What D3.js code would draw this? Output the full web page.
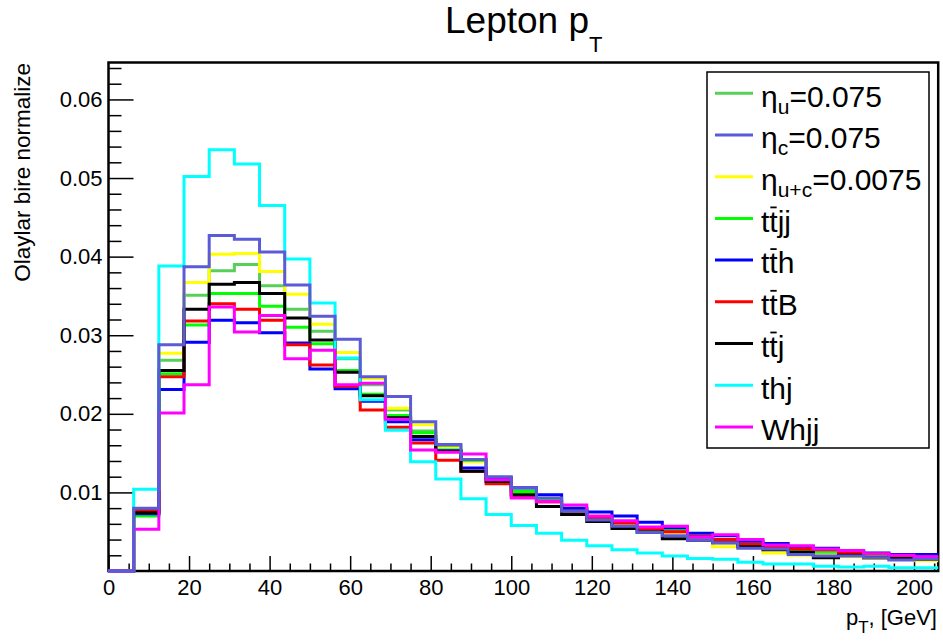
<!DOCTYPE html>
<html>
<head>
<meta charset="utf-8">
<script src="https://cdn.jsdelivr.net/npm/d3@7"></script>
<style>
  body { margin: 0; background: #fff; }
  svg { display: block; font-family: "Liberation Sans", Arial, Helvetica, sans-serif; }
</style>
</head>
<body>
<script>
// bins of 6.25 GeV starting at 0
var binWidth = 6.25;

var etaU  = [0, 0.0074, 0.0268, 0.0351, 0.0382, 0.0390, 0.0363, 0.0333, 0.0305, 0.0270, 0.0237, 0.0205, 0.0178, 0.0159, 0.0142, 0.0119, 0.0102, 0.0090, 0.0077, 0.0066, 0.0060, 0.0053, 0.0050, 0.0042, 0.0038, 0.0032, 0.0028, 0.0025, 0.0022, 0.0021, 0.0018, 0.0016, 0.0015];
var etaC  = [0, 0.0080, 0.0288, 0.0387, 0.0427, 0.0422, 0.0406, 0.0364, 0.0324, 0.0295, 0.0247, 0.0222, 0.0190, 0.0161, 0.0142, 0.0120, 0.0106, 0.0093, 0.0076, 0.0065, 0.0057, 0.0049, 0.0045, 0.0039, 0.0036, 0.0029, 0.0028, 0.0021, 0.0019, 0.0019, 0.0017, 0.0014, 0.0015];
var etaUC = [0, 0.0072, 0.0277, 0.0367, 0.0403, 0.0404, 0.0381, 0.0352, 0.0314, 0.0278, 0.0245, 0.0207, 0.0186, 0.0156, 0.0139, 0.0118, 0.0099, 0.0088, 0.0074, 0.0063, 0.0058, 0.0051, 0.0049, 0.0039, 0.0031, 0.0030, 0.0023, 0.0020, 0.0020, 0.0018, 0.0016, 0.0015, 0.0013];
var ttjj  = [0, 0.0070, 0.0251, 0.0313, 0.0353, 0.0353, 0.0337, 0.0310, 0.0289, 0.0255, 0.0225, 0.0198, 0.0176, 0.0154, 0.0141, 0.0118, 0.0101, 0.0092, 0.0080, 0.0069, 0.0062, 0.0055, 0.0052, 0.0044, 0.0040, 0.0034, 0.0030, 0.0027, 0.0025, 0.0024, 0.0020, 0.0018, 0.0017];
var tth   = [0, 0.0073, 0.0231, 0.0291, 0.0319, 0.0316, 0.0303, 0.0290, 0.0257, 0.0232, 0.0216, 0.0190, 0.0167, 0.0153, 0.0131, 0.0118, 0.0106, 0.0097, 0.0080, 0.0075, 0.0070, 0.0062, 0.0055, 0.0048, 0.0045, 0.0038, 0.0035, 0.0031, 0.0029, 0.0025, 0.0023, 0.0021, 0.0021];
var ttB   = [0, 0.0077, 0.0247, 0.0318, 0.0340, 0.0333, 0.0319, 0.0288, 0.0262, 0.0235, 0.0205, 0.0183, 0.0163, 0.0141, 0.0127, 0.0111, 0.0095, 0.0088, 0.0076, 0.0067, 0.0061, 0.0054, 0.0050, 0.0044, 0.0040, 0.0034, 0.0031, 0.0028, 0.0027, 0.0023, 0.0022, 0.0019, 0.0018];
var ttj   = [0, 0.0074, 0.0255, 0.0333, 0.0365, 0.0367, 0.0353, 0.0322, 0.0294, 0.0253, 0.0223, 0.0195, 0.0171, 0.0152, 0.0127, 0.0114, 0.0097, 0.0082, 0.0072, 0.0063, 0.0054, 0.0050, 0.0041, 0.0039, 0.0036, 0.0031, 0.0027, 0.0024, 0.0017, 0.0020, 0.0017, 0.0016, 0.0015];
var thj   = [0, 0.0104, 0.0388, 0.0502, 0.0536, 0.0518, 0.0465, 0.0397, 0.0341, 0.0271, 0.0218, 0.0179, 0.0139, 0.0117, 0.0092, 0.0072, 0.0058, 0.0048, 0.0039, 0.0032, 0.0027, 0.0023, 0.0019, 0.0016, 0.0015, 0.0011, 0.0009, 0.0009, 0.0006, 0.0005, 0.0006, 0.0004, 0.0004];
var whjj  = [0, 0.0053, 0.0201, 0.0237, 0.0336, 0.0304, 0.0325, 0.0270, 0.0281, 0.0237, 0.0239, 0.0193, 0.0154, 0.0151, 0.0149, 0.0116, 0.0093, 0.0088, 0.0084, 0.0070, 0.0064, 0.0056, 0.0057, 0.0043, 0.0046, 0.0040, 0.0033, 0.0032, 0.0028, 0.0026, 0.0022, 0.0020, 0.0018];

var xTicks = [0, 20, 40, 60, 80, 100, 120, 140, 160, 180, 200];
var yTicks = [0.01, 0.02, 0.03, 0.04, 0.05, 0.06];

// legend order; label = [main, subscript, rest]
var series = [
  { name: "etaU",  values: etaU,  color: "#58cf58", label: ["\u03b7", "u", "=0.075"] },
  { name: "etaC",  values: etaC,  color: "#5b5bd8", label: ["\u03b7", "c", "=0.075"] },
  { name: "etaUC", values: etaUC, color: "#ffff00", label: ["\u03b7", "u+c", "=0.0075"] },
  { name: "ttjj",  values: ttjj,  color: "#00ff00", label: ["ttjj"], bar: true },
  { name: "tth",   values: tth,   color: "#0000ff", label: ["tth"], bar: true },
  { name: "ttB",   values: ttB,   color: "#ff0000", label: ["ttB"], bar: true },
  { name: "ttj",   values: ttj,   color: "#000000", label: ["ttj"], bar: true },
  { name: "thj",   values: thj,   color: "#00ffff", label: ["thj"] },
  { name: "whjj",  values: whjj,  color: "#ff00ff", label: ["Whjj"] }
];

var W = 943, H = 642;
var frameL = 108.5, frameR = 938.2, frameT = 62.5, frameB = 571;

var svg = d3.select("body").append("svg")
  .attr("width", W)
  .attr("height", H);

var x = d3.scaleLinear().domain([0, 206]).range([frameL, frameR]);
var y = d3.scaleLinear().domain([0, 0.0647]).range([frameB, frameT]);

// clip a bit below the x axis so the zero bins stay visible on it
svg.append("clipPath").attr("id", "frame")
  .append("rect")
  .attr("x", frameL - 2).attr("y", frameT)
  .attr("width", frameR - frameL + 2).attr("height", frameB - frameT + 2);

// axes
var yMinor = d3.range(1, 33).map(function (i) { return +(i * 0.002).toFixed(3); })
  .filter(function (v) { return yTicks.indexOf(v) < 0; });
var xMinor = d3.range(5, 206, 5).filter(function (v) { return v % 20 != 0; });

var yAxis = svg.append("g")
  .attr("transform", "translate(" + frameL + ",0)")
  .call(d3.axisLeft(y).tickValues(yTicks).tickSize(-25).tickPadding(6)
    .tickFormat(d3.format(".2f")));
var yAxisMinor = svg.append("g")
  .attr("transform", "translate(" + frameL + ",0)")
  .call(d3.axisLeft(y).tickValues(yMinor).tickSize(-13).tickFormat(""));

var xAxis = svg.append("g")
  .attr("transform", "translate(0," + frameB + ")")
  .call(d3.axisBottom(x).tickValues(xTicks).tickSize(-15).tickPadding(8)
    .tickFormat(d3.format("d")));
var xAxisMinor = svg.append("g")
  .attr("transform", "translate(0," + frameB + ")")
  .call(d3.axisBottom(x).tickValues(xMinor).tickSize(-7.5).tickFormat(""));

[yAxis, yAxisMinor, xAxis, xAxisMinor].forEach(function (g) {
  g.attr("font-family", null).attr("font-size", null);
  g.select(".domain").remove();
  g.selectAll(".tick line").attr("stroke", "#000").attr("stroke-width", 1.5);
  g.selectAll(".tick text")
    .attr("fill", "#000")
    .style("font-size", "22px");
});

// frame
svg.append("rect")
  .attr("x", frameL).attr("y", frameT)
  .attr("width", frameR - frameL).attr("height", frameB - frameT)
  .attr("fill", "none")
  .attr("stroke", "#000")
  .attr("stroke-width", 2.5);

// histograms on top of the frame, eta_c drawn last
var drawOrder = series.filter(function (s) { return s.name != "etaC"; })
  .concat(series.filter(function (s) { return s.name == "etaC"; }));

var line = d3.line()
  .x(function (d) { return x(d[0]); })
  .y(function (d) { return y(d[1]); });

drawOrder.forEach(function (s) {
  var pts = [];
  s.values.forEach(function (v, i) {
    pts.push([i * binWidth, v]);
    pts.push([(i + 1) * binWidth, v]);
  });
  svg.append("path")
    .attr("clip-path", "url(#frame)")
    .attr("d", line(pts))
    .attr("fill", "none")
    .attr("stroke", s.color)
    .attr("stroke-width", 3)
    .attr("stroke-linejoin", "miter");
});

// title
var title = svg.append("text")
  .attr("x", 445).attr("y", 33)
  .style("font-size", "37px");
title.append("tspan").text("Lepton p");
title.append("tspan").attr("dy", 19).style("font-size", "22px").text("T");

// axis titles
var xt = svg.append("text")
  .attr("x", 937).attr("y", 625)
  .attr("text-anchor", "end")
  .style("font-size", "22px");
xt.append("tspan").text("p");
xt.append("tspan").attr("dy", 8).style("font-size", "17px").text("T");
xt.append("tspan").attr("dy", -8).text(", [GeV]");

svg.append("text")
  .attr("transform", "translate(29.5,63) rotate(-90)")
  .attr("text-anchor", "end")
  .style("font-size", "22.5px")
  .text("Olaylar bire normalize");

// legend
var lg = svg.append("g");
lg.append("rect")
  .attr("x", 707).attr("y", 72)
  .attr("width", 222).attr("height", 376)
  .attr("fill", "#fff")
  .attr("stroke", "#000")
  .attr("stroke-width", 1.5);

series.forEach(function (s, i) {
  var cy = 93.3 + i * 41.7;
  lg.append("line")
    .attr("x1", 715).attr("x2", 753)
    .attr("y1", cy).attr("y2", cy)
    .attr("stroke", s.color)
    .attr("stroke-width", 3);
  var t = lg.append("text")
    .attr("x", 761).attr("y", cy + 13.3)
    .style("font-size", "30px");
  if (s.label.length == 3) {
    t.append("tspan").text(s.label[0]);
    t.append("tspan").attr("dy", 7).style("font-size", "21px").text(s.label[1]);
    t.append("tspan").attr("dy", -7).text(s.label[2]);
  } else {
    t.text(s.label[0]);
    if (s.bar) {
      var node = t.node();
      var a = node.getStartPositionOfChar(1).x;
      var b = node.getEndPositionOfChar(1).x;
      lg.append("line")
        .attr("x1", a + 1).attr("x2", b - 1)
        .attr("y1", cy - 11).attr("y2", cy - 11)
        .attr("stroke", "#000")
        .attr("stroke-width", 1.8);
    }
  }
});
</script>
</body>
</html>
